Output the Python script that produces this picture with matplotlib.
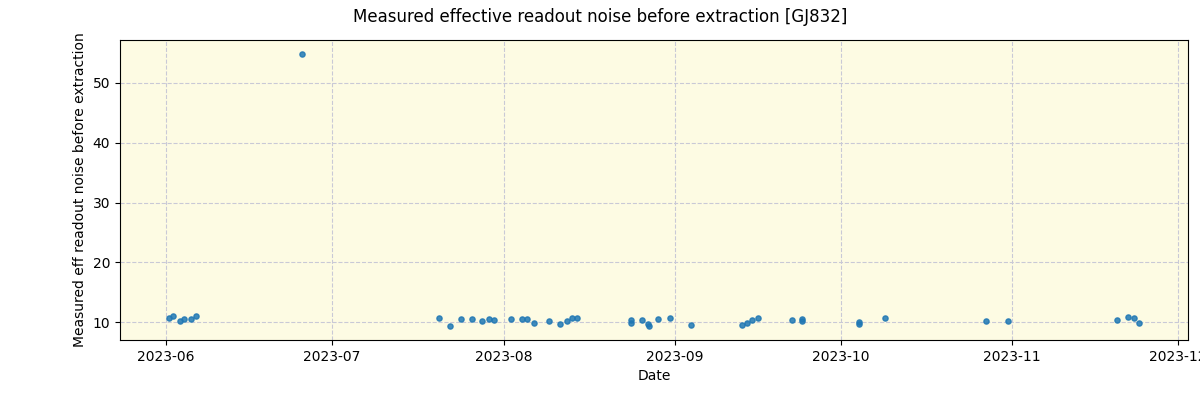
import matplotlib
matplotlib.use("Agg")
import matplotlib.pyplot as plt
import matplotlib.dates as mdates
import pandas as pd

# Fechas de observacion
fechas = [
    "2023-06-01 10:00", "2023-06-02 07:00", "2023-06-03 10:00", "2023-06-04 07:00",
    "2023-06-05 10:00", "2023-06-06 10:00",
    "2023-06-25 12:00",
    "2023-07-20 07:00", "2023-07-22 07:00", "2023-07-24 07:00", "2023-07-26 07:00",
    "2023-07-28 02:00", "2023-07-29 10:00", "2023-07-30 07:00",
    "2023-08-02 08:00", "2023-08-04 10:00", "2023-08-05 07:00", "2023-08-06 10:00",
    "2023-08-09 07:00", "2023-08-11 07:00", "2023-08-12 10:00", "2023-08-13 10:00",
    "2023-08-14 07:00",
    "2023-08-24 02:00", "2023-08-24 03:00", "2023-08-26 02:00", "2023-08-27 05:00",
    "2023-08-27 06:00", "2023-08-29 00:00", "2023-08-31 02:00",
    "2023-09-03 23:00", "2023-09-13 01:00", "2023-09-14 02:00", "2023-09-15 00:00",
    "2023-09-16 02:00", "2023-09-22 02:00", "2023-09-23 22:00", "2023-09-23 23:00",
    "2023-10-04 05:00", "2023-10-04 06:00", "2023-10-09 01:00", "2023-10-27 05:00",
    "2023-10-31 05:00",
    "2023-11-20 00:00", "2023-11-22 00:00", "2023-11-23 02:00", "2023-11-24 00:00",
]

# Ruido efectivo de lectura medido
ruido = [
    10.72, 11.0, 10.22, 10.55, 10.62, 11.0,
    54.85,
    10.67, 9.33, 10.61, 10.56, 10.28, 10.56, 10.45,
    10.61, 10.61, 10.61, 9.95, 10.17, 9.72, 10.28, 10.78, 10.67,
    10.33, 9.89, 10.45, 9.78, 9.33, 10.5, 10.72,
    9.55, 9.61, 9.83, 10.39, 10.67, 10.39, 10.61, 10.28,
    10.0, 9.67, 10.78, 10.17, 10.28,
    10.39, 10.84, 10.67, 9.89,
]


def main():

    x = pd.to_datetime(fechas)

    fig = plt.figure(figsize=(12, 4), dpi=100)
    ax = fig.add_axes([0.1, 0.15, 0.89, 0.75])
    ax.set_facecolor("#fdfbe3")

    ax.scatter(x, ruido, s=14, color="#1f77b4", alpha=0.85, zorder=3)

    ax.grid(True, linestyle="--", color="#c9c9d6", linewidth=0.8)
    ax.xaxis.set_major_locator(mdates.MonthLocator())
    ax.xaxis.set_major_formatter(mdates.DateFormatter("%Y-%m"))

    ax.set_xlabel("Date", fontsize=10)
    ax.set_ylabel("Measured eff readout noise before extraction", fontsize=10)
    fig.suptitle("Measured effective readout noise before extraction [GJ832]", fontsize=12)

    plt.savefig("out.png", dpi=100)


if __name__ == "__main__":
    main()
